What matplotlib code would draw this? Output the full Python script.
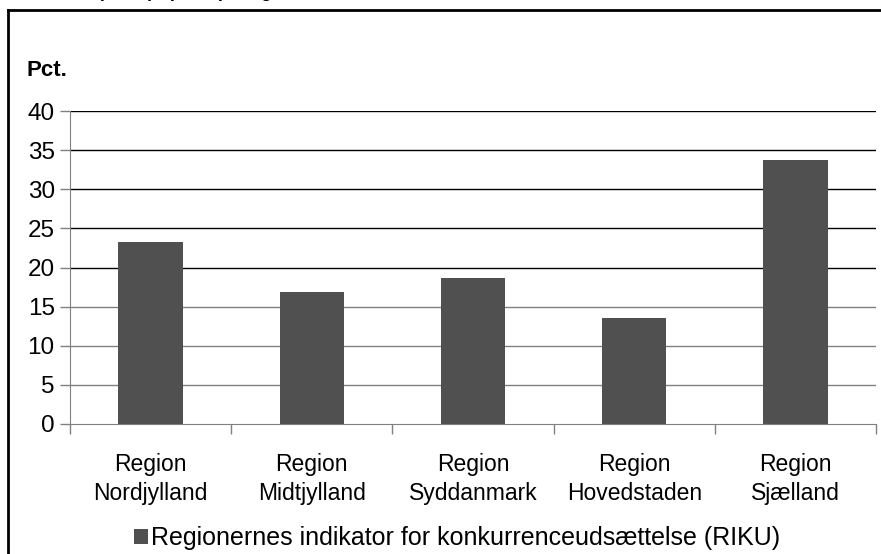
import numpy as np
import matplotlib
matplotlib.use('Agg')
import matplotlib.pyplot as plt
from matplotlib.lines import Line2D

plt.rcParams['font.family'] = ['Liberation Sans', 'DejaVu Sans']

# data
regions = ['Region\nNordjylland', 'Region\nMidtjylland', 'Region\nSyddanmark',
           'Region\nHovedstaden', 'Region\nSjælland']
riku = [23.2, 16.9, 18.7, 13.5, 33.7]
yticks = [0, 5, 10, 15, 20, 25, 30, 35, 40]
series_name = 'Regionernes indikator for konkurrenceudsættelse (RIKU)'

W, H = 881, 554
fig = plt.figure(figsize=(W / 100, H / 100), dpi=100)
ax = fig.add_axes([70 / W, 130 / H, 806 / W, 313 / H])

x = np.arange(len(regions))
ax.bar(x, riku, width=0.40, color='#505050', zorder=3, label=series_name)

ax.set_ylim(0, 40)
ax.set_xlim(-0.5, len(regions) - 0.5)
ax.set_yticks(yticks)
ax.set_yticklabels([str(v) for v in yticks], fontsize=17.5)
ax.tick_params(axis='y', direction='out', length=7, width=1, color='#808080', pad=4)

# labels at centre, tick marks at category borders
ax.set_xticks(x)
ax.set_xticklabels(regions, fontsize=16.5, linespacing=1.35)
ax.tick_params(axis='x', which='major', length=0, pad=21)
ax.set_xticks(np.arange(-0.5, len(regions), 1), minor=True)
ax.tick_params(axis='x', which='minor', direction='out', length=7, width=1, color='#808080')

# gridlines, upper ones render darker in the original
for v in yticks[1:]:
    c = 'black' if v >= 20 else '#808080'
    ax.axhline(v, color=c, lw=1, zorder=1)

for s in ['top', 'right']:
    ax.spines[s].set_visible(False)
ax.spines['left'].set_color('#808080')
ax.spines['bottom'].set_color('#808080')
ax.spines['bottom'].set_zorder(4)

fig.text(27 / W, 1 - 71 / H, 'Pct.', fontsize=16, fontweight='bold', va='center', ha='left')

# cut-off title at the very top, only the descenders show
fig.text(98 / W, 1 + 3 / H, '(RIKU) opdelt på regioner,', fontsize=13, fontweight='bold',
         va='baseline', ha='left')

leg = fig.legend(loc='center', bbox_to_anchor=(457 / W, 1 - 538 / H), frameon=False,
                 fontsize=18, handlelength=0.55, handleheight=0.55, handletextpad=0.1)

# outer frame
fig.add_artist(Line2D([8 / W, 8 / W], [0, 1 - 10 / H], color='black', lw=2, transform=fig.transFigure))
fig.add_artist(Line2D([8 / W, 1], [1 - 10 / H, 1 - 10 / H], color='black', lw=2, transform=fig.transFigure))

fig.savefig('out.png', dpi=100)
